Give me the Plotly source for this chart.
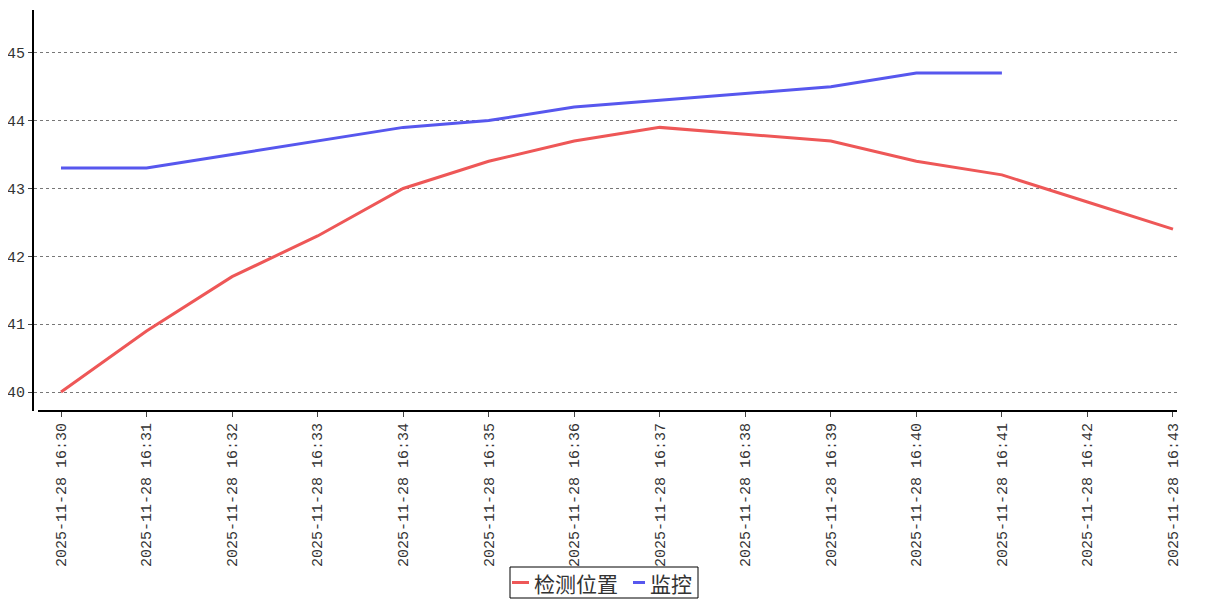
import plotly.graph_objects as go

times = ["2025-11-28 16:30", "2025-11-28 16:31", "2025-11-28 16:32", "2025-11-28 16:33",
         "2025-11-28 16:34", "2025-11-28 16:35", "2025-11-28 16:36", "2025-11-28 16:37",
         "2025-11-28 16:38", "2025-11-28 16:39", "2025-11-28 16:40", "2025-11-28 16:41",
         "2025-11-28 16:42", "2025-11-28 16:43"]
detect = [40.0, 40.9, 41.7, 42.3, 43.0, 43.4, 43.7, 43.9, 43.8, 43.7, 43.4, 43.2, 42.8, 42.4]
monitor = [43.3, 43.3, 43.5, 43.7, 43.9, 44.0, 44.2, 44.3, 44.4, 44.5, 44.7, 44.7, None, None]
series_names = ["检测位置", "监控"]
series_colors = ["#EE5757", "#5757EE"]
y_ticks = [40, 41, 42, 43, 44, 45]

FONT = "Liberation Mono, Noto Sans CJK SC, monospace"

# page body has an 8px margin, so the figure is shifted by 8px
W, H = 1191, 592
L, R, T, B = 26, 22, 2, 189
pw = W - L - R
ph = H - T - B


def px(xf):  # figure pixel x -> paper
    return (xf - L) / pw


def py(yf):  # figure pixel y -> paper
    return (T + ph - yf) / ph


fig = go.Figure()
xi = list(range(len(times)))
for vals, name, col in zip([detect, monitor], series_names, series_colors):
    fig.add_trace(go.Scatter(x=xi, y=vals, mode="lines", name=name,
                             line=dict(color=col, width=3), showlegend=False))

fig.update_layout(
    width=W, height=H,
    margin=dict(l=L, r=R, t=T, b=B, autoexpand=False),
    plot_bgcolor="white", paper_bgcolor="white",
    font=dict(family=FONT, color="#333333", size=14),
    showlegend=False,
    xaxis=dict(range=[-0.3157, 13.047], tickmode="array", tickvals=xi, ticktext=times,
               tickangle=-90, showgrid=False, zeroline=False, showline=False,
               automargin=False,
               ticks="outside", ticklen=5, tickcolor="#444", tickfont=dict(size=15)),
    yaxis=dict(range=[39.72, 45.63], tickvals=y_ticks, showgrid=True, gridcolor="#777777",
               griddash="dot", gridwidth=1, zeroline=False, showline=True, linecolor="black",
               linewidth=2, ticks="outside", ticklen=4, tickcolor="#444",
               automargin=False, tickfont=dict(size=15)),
)
fig.add_shape(type="line", xref="paper", yref="paper", x0=4 / pw, x1=1, y0=0, y1=0,
              line=dict(color="black", width=2))

# legend box drawn by hand (compact, like the reference)
fig.add_shape(type="rect", xref="paper", yref="paper", x0=px(502), x1=px(690),
              y0=py(559), y1=py(590), line=dict(color="black", width=1),
              fillcolor="white")
leg_y = py(574.5)
items = [(504, 521, 524), (625, 637, 640)]
for (lx0, lx1, tx), name, col in zip(items, series_names, series_colors):
    fig.add_shape(type="line", xref="paper", yref="paper", x0=px(lx0), x1=px(lx1),
                  y0=leg_y, y1=leg_y, line=dict(color=col, width=3))
    fig.add_annotation(xref="paper", yref="paper", x=px(tx), y=leg_y, text=name,
                       showarrow=False, xanchor="left", yanchor="middle",
                       font=dict(family="Noto Sans CJK SC", size=21, color="#333333"))

fig.write_html("out.html")
